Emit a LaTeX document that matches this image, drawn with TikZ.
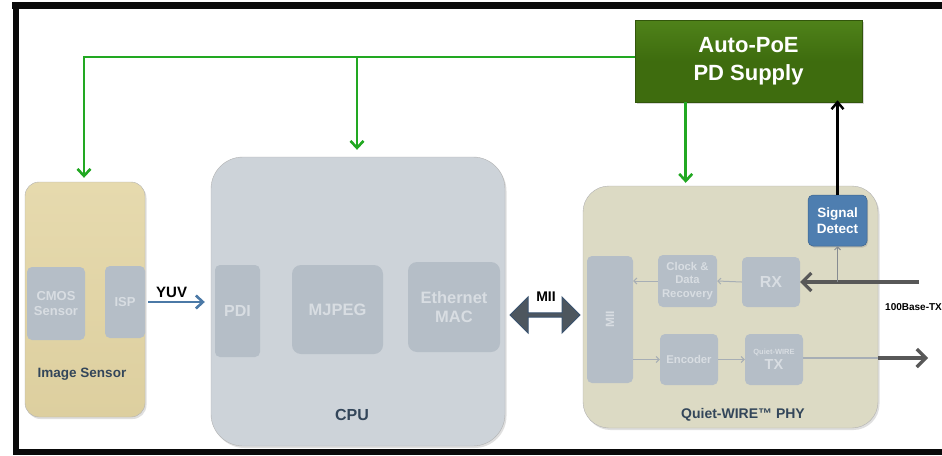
\documentclass[tikz,border=0pt]{standalone}
\usepackage{fontspec}
\setmainfont{Liberation Sans}
\usetikzlibrary{arrows.meta,shapes.arrows,shadows,calc}
\definecolor{frame}{HTML}{0A0A0A}
\definecolor{pgreen}{HTML}{22A822}
\definecolor{pwrfill}{HTML}{3E6C0E}
\definecolor{pwrtop}{HTML}{4F821A}
\definecolor{tanfill}{HTML}{DDCF9F}
\definecolor{tantop}{HTML}{E6DAAE}
\definecolor{cpufill}{HTML}{CDD3D9}
\definecolor{phyfill}{HTML}{DCDAC4}
\definecolor{innerfill}{HTML}{B5BEC7}
\definecolor{innertxt}{HTML}{D8DDE2}
\definecolor{labtxt}{HTML}{33465A}
\definecolor{sdfill}{HTML}{4E7EB0}
\definecolor{yuvblue}{HTML}{4B79A6}
\definecolor{thingray}{HTML}{A7AEB5}
\definecolor{biggray}{HTML}{585858}
\definecolor{miifill}{HTML}{4D565E}
\definecolor{miiedge}{HTML}{3A5370}
\tikzset{
  fs/.style={font=\bfseries\fontsize{#1}{\dimexpr #1pt*6/5\relax}\selectfont},
  bigbox/.style={rectangle, inner sep=0pt, draw=white!70!black, line width=0.4pt,
    drop shadow={opacity=0.25, shadow xshift=1.5pt, shadow yshift=-2pt}},
  blk/.style={rectangle, rounded corners=5pt, fill=innerfill, text=innertxt,
    inner sep=0pt, align=center},
  lab/.style={text=labtxt, inner sep=0pt, align=center},
  gline/.style={draw=pgreen, line width=2.8pt, -{Straight Barb[length=7pt,width=13pt,line width=2.6pt]}},
  thin/.style={draw=thingray, line width=1pt, -{Straight Barb[length=3pt,width=6pt]}},
  fat/.style={draw=biggray, line width=3.2pt, -{Straight Barb[length=9pt,width=18pt,line width=3.2pt]}}
}
\begin{document}
\begin{tikzpicture}[x=1pt,y=-1pt]
\useasboundingbox (0,0) rectangle (942,455);
\fill[white] (0,0) rectangle (942,455);
% frame
\fill[frame] (12,2) rectangle (942,9);
\fill[frame] (13,2) rectangle (19,455);
\fill[frame] (13,449) rectangle (942,455);

% power supply
\node[rectangle, inner sep=0pt, top color=pwrtop, bottom color=pwrfill, middle color=pwrfill,
  draw=pwrfill!80!black, line width=0.6pt, minimum width=227pt, minimum height=82pt,
  drop shadow={opacity=0.3, shadow xshift=1.5pt, shadow yshift=-2pt},
  text=white, fs=22, align=center] (pwr) at (748.5,61) {Auto-PoE\\[2pt]PD Supply};

% image sensor
\node[bigbox, top color=tantop, bottom color=tanfill, rounded corners=14pt, minimum width=120pt, minimum height=235pt] (img) at (85,299.5) {};
\node[blk, fs=13, minimum width=58pt, minimum height=73pt] (cmos) at (56,303.5) {CMOS\\Sensor};
\node[blk, fs=13, minimum width=40pt, minimum height=72pt] (isp) at (125,302) {ISP};
\node[lab, fs=13.5] (imglab) at (82,374) {Image Sensor};

% CPU
\node[bigbox, fill=cpufill, rounded corners=32pt, minimum width=294pt, minimum height=289pt] (cpu) at (358,301.5) {};
\node[blk, fs=16, minimum width=45pt, minimum height=92pt] (pdi) at (237.5,311) {PDI};
\node[blk, fs=16.5, rounded corners=9pt, minimum width=91pt, minimum height=89pt] (mjpeg) at (337.5,309.5) {MJPEG};
\node[blk, fs=16.5, rounded corners=9pt, minimum width=92pt, minimum height=90pt] (mac) at (454,307) {Ethernet\\MAC};
\node[lab, fs=16] (cpulab) at (352,415) {CPU};

% PHY
\node[bigbox, fill=phyfill, rounded corners=26pt, minimum width=295pt, minimum height=242pt] (phy) at (730.5,307) {};
\node[rectangle, rounded corners=5pt, fill=sdfill, draw=sdfill!80!black, line width=0.5pt,
  drop shadow={opacity=0.3, shadow xshift=1pt, shadow yshift=-1.5pt},
  text=white, fs=13.5, align=center, inner sep=0pt, minimum width=59pt, minimum height=51pt] (sd) at (837.5,220.5) {Signal\\Detect};
\node[blk, minimum width=46pt, minimum height=127pt] (mii) at (610,319.5) {\rotatebox{90}{\bfseries\fontsize{12}{14}\selectfont MII}};
\node[blk, fs=11.3, minimum width=59pt, minimum height=52pt] (cdr) at (687.5,281) {Clock \&\\Data\\Recovery};
\node[blk, fs=16, minimum width=58pt, minimum height=50pt] (rx) at (771,282) {RX};
\node[blk, fs=11.3, minimum width=58pt, minimum height=51pt] (enc) at (689,359.5) {Encoder};
\node[blk, minimum width=58pt, minimum height=51pt] (tx) at (774,359.5) {{\bfseries\fontsize{7.5}{8}\selectfont Quiet-WIRE}\\[3pt]{\bfseries\fontsize{14.5}{12}\selectfont TX}};
\node[lab, fs=14] (phylab) at (743,415) {Quiet-WIRE™ PHY};

% green power lines
\coordinate (j) at (84,57);
\draw[gline] ($(pwr.west)+(0,-4)$) -- (j) -- ([yshift=4pt]j |- img.north);
\draw[gline] ($(j -| cpu.north)+(-1,0)$) -- ($(cpu.north)+(-1,-7)$);
\coordinate (pd) at ($(pwr.south west)+(51,0)$);
\draw[gline] (pd) -- ([yshift=3pt]pd |- phy.north);

% signal detect to supply
\draw[draw=black, line width=2.4pt, -{Straight Barb[length=7pt,width=12pt,line width=2.4pt]}] (sd.north) -- ([yshift=2pt]sd.north |- pwr.south);

% YUV
\draw[draw=yuvblue, line width=2.8pt, -{Straight Barb[length=7pt,width=13pt,line width=2.6pt]}, shorten <=3pt, shorten >=10pt] (isp.east) -- (isp.east -| pdi.west)
  node[pos=0.38, above=3pt, text=black, fs=15, inner sep=0pt] (yuv) {YUV};

% MII double arrow
\node[double arrow, fill=miifill, draw=miiedge, line width=1pt, minimum width=36pt,
  double arrow head extend=11pt, double arrow head indent=0pt, minimum height=70pt, inner sep=1pt] (miiarr) at (545,315) {};
\node[fs=14, inner sep=0pt] (miilab) at (546,297) {MII};

% inside PHY thin arrows
\draw[thin] (rx.west) -- (cdr.east);
\draw[thin] (cdr.west) -- (cdr.west -| mii.east);
\draw[thin] (enc.west -| mii.east) -- (enc.west);
\draw[thin] (enc.east) -- (tx.west);

% line side
\coordinate (inp) at (919,282);
\coordinate (out) at (928,358);
\draw[fat] (inp) -- (rx.east);
\draw[draw=thingray!80!black, line width=1pt, -{Straight Barb[length=3pt,width=6pt]}] (sd.south |- inp) -- (sd.south);
\draw[draw=thingray, line width=1.2pt] (tx.east |- out) -- (phy.east |- out);
\draw[fat] (phy.east |- out) -- (out);
\node[anchor=west, fs=10, inner sep=0pt] (base) at (885,307) {100Base-TX};
\end{tikzpicture}
\end{document}
